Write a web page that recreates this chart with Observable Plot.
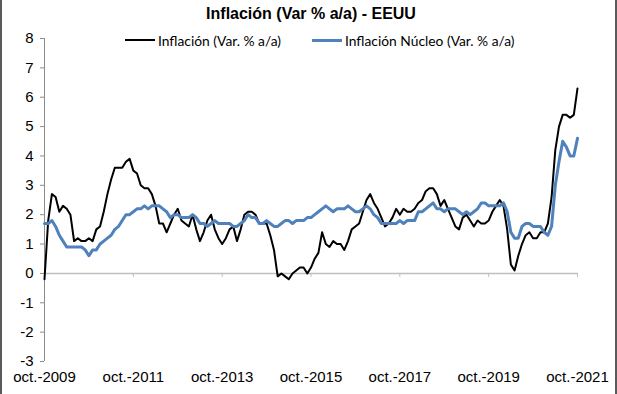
<!DOCTYPE html>
<html><head><meta charset="utf-8">
<script src="https://cdn.jsdelivr.net/npm/d3@7"></script>
<script src="https://cdn.jsdelivr.net/npm/@observablehq/plot@0.6"></script>
<style>
body{margin:0;background:#fff}
#wrap{position:relative;width:617px;height:394px;overflow:hidden;background:#fff}
#title{position:absolute;left:0;width:622px;top:5px;text-align:center;font:bold 16px "Liberation Sans",Arial,sans-serif;color:#000;white-space:nowrap}
.leg{position:absolute;top:31px;height:18px;display:flex;align-items:center;font:13.8px Lato,"Open Sans",sans-serif;color:#000;white-space:nowrap}
.sw{width:30px;margin-right:3px}
.bl{position:absolute;top:0;bottom:0;width:2px;background:#5a5a5a}
</style></head><body>
<div id="wrap">
<div id="chart"></div>
<div id="title">Inflación (Var % a/a) - EEUU</div>
<div class="leg" style="left:125px"><div class="sw" style="height:2px;background:#000"></div>Inflación (Var. % a/a)</div>
<div class="leg" style="left:312px"><div class="sw" style="height:3px;background:#4f81bd"></div>Inflación Núcleo (Var. % a/a)</div>
<div class="bl" style="left:0"></div>
<div class="bl" style="left:615px"></div>
</div>
<script>
// Monthly, oct-2009 .. oct-2021 (145 months)
const headline = [
 -0.2, 1.8, 2.7,
 2.6, 2.1, 2.3, 2.2, 2.0, 1.1, 1.2, 1.1, 1.1, 1.2, 1.1, 1.5,
 1.6, 2.1, 2.7, 3.2, 3.6, 3.6, 3.6, 3.8, 3.9, 3.5, 3.4, 3.0,
 2.9, 2.9, 2.7, 2.3, 1.7, 1.7, 1.4, 1.7, 2.0, 2.2, 1.8, 1.7,
 1.6, 2.0, 1.5, 1.1, 1.4, 1.8, 2.0, 1.5, 1.2, 1.0, 1.2, 1.5,
 1.6, 1.1, 1.5, 2.0, 2.1, 2.1, 2.0, 1.7, 1.7, 1.7, 1.3, 0.8,
 -0.1, 0.0, -0.1, -0.2, 0.0, 0.1, 0.2, 0.2, 0.0, 0.2, 0.5, 0.7,
 1.4, 1.0, 0.9, 1.1, 1.0, 1.0, 0.8, 1.1, 1.5, 1.6, 1.7, 2.1,
 2.5, 2.7, 2.4, 2.2, 1.9, 1.6, 1.7, 1.9, 2.2, 2.0, 2.2, 2.1,
 2.1, 2.2, 2.4, 2.5, 2.8, 2.9, 2.9, 2.7, 2.3, 2.5, 2.2, 1.9,
 1.6, 1.5, 1.9, 2.0, 1.8, 1.6, 1.8, 1.7, 1.7, 1.8, 2.1, 2.3,
 2.5, 2.3, 1.5, 0.3, 0.1, 0.6, 1.0, 1.3, 1.4, 1.2, 1.2, 1.4,
 1.4, 1.7, 2.6, 4.2, 5.0, 5.4, 5.4, 5.3, 5.4, 6.3
];
const core = [
 1.7, 1.7, 1.8,
 1.6, 1.3, 1.1, 0.9, 0.9, 0.9, 0.9, 0.9, 0.8, 0.6, 0.8, 0.8,
 1.0, 1.1, 1.2, 1.3, 1.5, 1.6, 1.8, 2.0, 2.0, 2.1, 2.2, 2.2,
 2.3, 2.2, 2.3, 2.3, 2.3, 2.2, 2.1, 1.9, 2.0, 2.0, 1.9, 1.9,
 1.9, 2.0, 1.9, 1.7, 1.7, 1.6, 1.7, 1.8, 1.7, 1.7, 1.7, 1.7,
 1.6, 1.6, 1.7, 1.8, 2.0, 1.9, 1.9, 1.7, 1.7, 1.8, 1.7, 1.6,
 1.6, 1.7, 1.8, 1.8, 1.7, 1.8, 1.8, 1.8, 1.9, 1.9, 2.0, 2.1,
 2.2, 2.3, 2.2, 2.1, 2.2, 2.2, 2.2, 2.3, 2.2, 2.1, 2.1, 2.2,
 2.3, 2.2, 2.0, 1.9, 1.7, 1.7, 1.7, 1.7, 1.7, 1.8, 1.7, 1.8,
 1.8, 1.8, 2.1, 2.1, 2.2, 2.3, 2.4, 2.2, 2.2, 2.1, 2.2, 2.2,
 2.2, 2.1, 2.0, 2.1, 2.0, 2.1, 2.2, 2.4, 2.4, 2.3, 2.3, 2.3,
 2.3, 2.4, 2.1, 1.4, 1.2, 1.2, 1.6, 1.7, 1.7, 1.6, 1.6, 1.6,
 1.4, 1.3, 1.6, 3.0, 3.8, 4.5, 4.3, 4.0, 4.0, 4.6
];
const tickMonths = [0, 24, 48, 72, 96, 120, 144];
const tickLabels = ["oct.-2009", "oct.-2011", "oct.-2013", "oct.-2015", "oct.-2017", "oct.-2019", "oct.-2021"];
const yTicks = [-3, -2, -1, 0, 1, 2, 3, 4, 5, 6, 7, 8];

const hData = headline.map((v, i) => ({i, v}));
const cData = core.map((v, i) => ({i, v}));
const gray = "#bfbfbf";

const chart = Plot.plot({
  width: 617,
  height: 394,
  marginTop: 38,
  marginBottom: 33,
  marginLeft: 44,
  marginRight: 40,
  style: {fontFamily: "'Liberation Sans', Arial, sans-serif", fontSize: "15px", color: "#000", background: "transparent"},
  x: {domain: [0, 144], axis: null},
  y: {domain: [-3, 8], axis: null},
  marks: [
    Plot.ruleY([0], {stroke: gray, strokeWidth: 1.5}),
    Plot.ruleX(tickMonths, {x: d => d, y1: 0, y2: 0, insetBottom: -4, stroke: gray, strokeWidth: 1}),
    Plot.ruleX([0], {stroke: "#8c8c8c", strokeWidth: 1}),
    Plot.axisY({ticks: yTicks, label: null, tickSize: 4, tickPadding: 7, stroke: "#8c8c8c", fill: "#000", tickFormat: d => String(d).replace("−", "-")}),
    Plot.axisX({ticks: tickMonths, label: null, tickSize: 0, tickPadding: 10, fill: "#000", tickFormat: d => tickLabels[tickMonths.indexOf(d)]}),
    Plot.line(hData, {x: "i", y: "v", stroke: "#000", strokeWidth: 2}),
    Plot.line(cData, {x: "i", y: "v", stroke: "#4f81bd", strokeWidth: 3})
  ]
});
document.getElementById("chart").appendChild(chart);
</script>
</body></html>
